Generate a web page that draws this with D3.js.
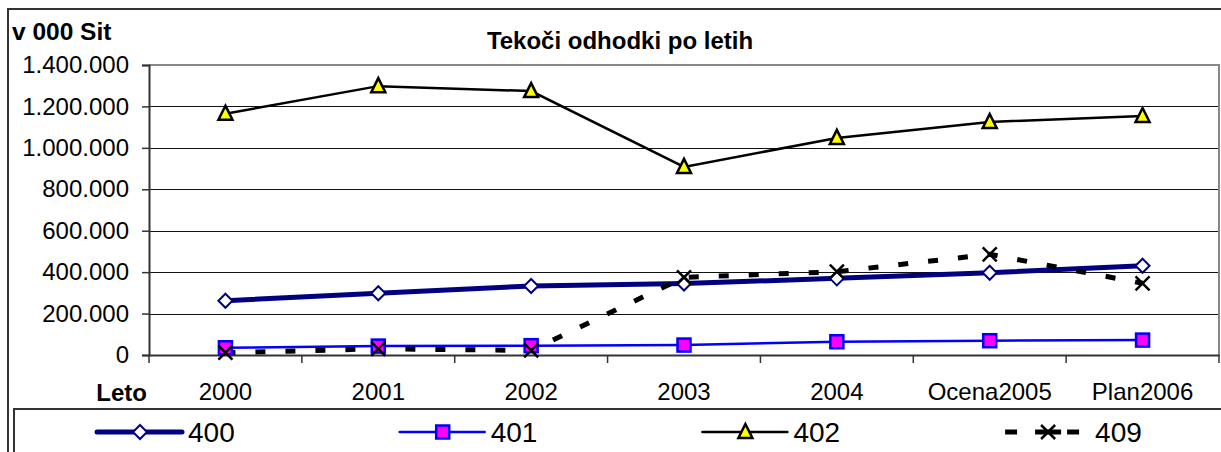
<!DOCTYPE html>
<html>
<head>
<meta charset="utf-8">
<title>Tekoči odhodki po letih</title>
<script src="https://cdn.jsdelivr.net/npm/d3@7"></script>
<style>
  body { margin: 0; background: #fff; }
  text { font-family: "Liberation Sans", Arial, sans-serif; fill: #000; }
</style>
</head>
<body>
<script>
// data (v 000 Sit)
var categories = ["2000", "2001", "2002", "2003", "2004", "Ocena2005", "Plan2006"];
var s400 = [262000, 298000, 333000, 345000, 370000, 397000, 431000];
var s401 = [35000, 43000, 45000, 48000, 64000, 69000, 72000];
var s402 = [1165000, 1298000, 1274000, 908000, 1048000, 1125000, 1154000];
var s409 = [11000, 30000, 22000, 375000, 402000, 486000, 346000];
var yTicks = [0, 200000, 400000, 600000, 800000, 1000000, 1200000, 1400000];

var width = 1221, height = 452;
var plot = { left: 149, right: 1219, top: 65, bottom: 355 };

var svg = d3.select("body").append("svg")
  .attr("width", width).attr("height", height);

// chart area border
svg.append("path")
  .attr("d", "M8," + height + "V9H" + width)
  .attr("fill", "none").attr("stroke", "#333").attr("stroke-width", 2);

var x = d3.scaleBand().domain(categories).range([plot.left, plot.right]);
var y = d3.scaleLinear().domain([0, 1400000]).range([plot.bottom, plot.top]);

var fmt = d3.formatLocale({ decimal: ",", thousands: ".", grouping: [3], currency: ["", ""] }).format(",d");

// gridlines
svg.append("g").selectAll("line").data(yTicks.slice(1, -1)).enter().append("line")
  .attr("x1", plot.left).attr("x2", plot.right)
  .attr("y1", function(d) { return Math.round(y(d)) + 0.5; })
  .attr("y2", function(d) { return Math.round(y(d)) + 0.5; })
  .attr("stroke", "#111").attr("stroke-width", 1);

// plot area top/right border
svg.append("path")
  .attr("d", "M" + plot.left + "," + plot.top + "H" + plot.right + "V" + plot.bottom)
  .attr("fill", "none").attr("stroke", "#888").attr("stroke-width", 2);

// y axis
var yAxis = svg.append("g").attr("transform", "translate(" + plot.left + ",0)")
  .call(d3.axisLeft(y).tickValues(yTicks).tickFormat(fmt).tickSize(7).tickPadding(13));
yAxis.select(".domain").attr("stroke", "#333").attr("stroke-width", 2);
yAxis.selectAll(".tick line").attr("stroke", "#333").attr("stroke-width", 1.5);
yAxis.selectAll(".tick text").style("font-size", "24px")
  .style("font-family", "'Liberation Sans', Arial, sans-serif");

// x axis
var xAxis = svg.append("g").attr("transform", "translate(0," + plot.bottom + ")")
  .call(d3.axisBottom(x).tickSize(0).tickPadding(28));
xAxis.select(".domain").attr("stroke", "#333").attr("stroke-width", 2);
xAxis.selectAll(".tick text").style("font-size", "24px")
  .style("font-family", "'Liberation Sans', Arial, sans-serif");
// tick marks between categories
var bounds = categories.map(function(c) { return x(c); }).concat([plot.right]);
svg.append("g").selectAll("line").data(bounds).enter().append("line")
  .attr("x1", function(d) { return d; }).attr("x2", function(d) { return d; })
  .attr("y1", plot.bottom).attr("y2", plot.bottom + 8)
  .attr("stroke", "#333").attr("stroke-width", 1.5);

// titles
svg.append("text").attr("x", 620).attr("y", 49).attr("text-anchor", "middle")
  .style("font-size", "24px").style("font-weight", "bold").text("Tekoči odhodki po letih");
svg.append("text").attr("x", 12).attr("y", 40)
  .style("font-size", "24.5px").style("font-weight", "bold").text("v 000 Sit");
svg.append("text").attr("x", 147).attr("y", 401).attr("text-anchor", "end")
  .style("font-size", "24px").style("font-weight", "bold").text("Leto");

// series
var cx = function(i) { return x(categories[i]) + x.bandwidth() / 2; };
var series = [
  { name: "400", values: s400, color: "#000080", width: 5, dash: null, marker: "diamond", fill: "#fff", mstroke: "#000080" },
  { name: "401", values: s401, color: "#0000ff", width: 2.5, dash: null, marker: "square", fill: "#ff00ff", mstroke: "#0000ff" },
  { name: "402", values: s402, color: "#000", width: 2.5, dash: null, marker: "triangle", fill: "#ffff00", mstroke: "#000" },
  { name: "409", values: s409, color: "#000", width: 5, dash: "10,20", marker: "x", fill: "none", mstroke: "#000" }
];

function drawMarker(g, type, fill, stroke) {
  if (type === "diamond") {
    g.append("path").attr("d", "M0,-7L7,0L0,7L-7,0Z").attr("fill", fill).attr("stroke", stroke).attr("stroke-width", 2);
  } else if (type === "square") {
    g.append("rect").attr("x", -6.5).attr("y", -6.5).attr("width", 13).attr("height", 13)
      .attr("fill", fill).attr("stroke", stroke).attr("stroke-width", 2.5);
  } else if (type === "triangle") {
    g.append("path").attr("d", "M0,-8L7,6L-7,6Z").attr("fill", fill).attr("stroke", stroke).attr("stroke-width", 2.5)
      .attr("stroke-linejoin", "miter");
  } else {
    g.append("path").attr("d", "M-7,-7L7,7M7,-7L-7,7").attr("stroke", stroke).attr("stroke-width", 2.5).attr("fill", "none");
  }
}

var line = d3.line().x(function(d, i) { return cx(i); }).y(function(d) { return y(d); });

series.forEach(function(s) {
  svg.append("path").datum(s.values).attr("d", line)
    .attr("fill", "none").attr("stroke", s.color).attr("stroke-width", s.width)
    .attr("stroke-dasharray", s.dash);
});
series.forEach(function(s) {
  s.values.forEach(function(v, i) {
    var g = svg.append("g").attr("transform", "translate(" + cx(i) + "," + y(v) + ")");
    drawMarker(g, s.marker, s.fill, s.mstroke);
  });
});

// legend
svg.append("path").attr("d", "M14," + height + "V409H" + width)
  .attr("fill", "none").attr("stroke", "#333").attr("stroke-width", 2);
var ly = 432;
series.forEach(function(s, i) {
  var x0 = 97 + i * 302.7;
  var g = svg.append("g").attr("transform", "translate(" + x0 + "," + ly + ")");
  if (s.dash) {
    g.append("line").attr("x1", 0).attr("x2", 12).attr("stroke", s.color).attr("stroke-width", s.width);
    g.append("line").attr("x1", 62).attr("x2", 74).attr("stroke", s.color).attr("stroke-width", s.width);
    g.append("line").attr("x1", 30).attr("x2", 56).attr("stroke", s.color).attr("stroke-width", s.width);
  } else {
    g.append("line").attr("x1", 0).attr("x2", 85).attr("stroke", s.color).attr("stroke-width", s.width)
      .attr("stroke-linecap", "round");
  }
  var m = g.append("g").attr("transform", "translate(43,0)");
  drawMarker(m, s.marker, s.fill, s.mstroke);
  g.append("text").attr("x", s.dash ? 90 : 91).attr("y", 10).style("font-size", "28px").text(s.name);
});
</script>
</body>
</html>
